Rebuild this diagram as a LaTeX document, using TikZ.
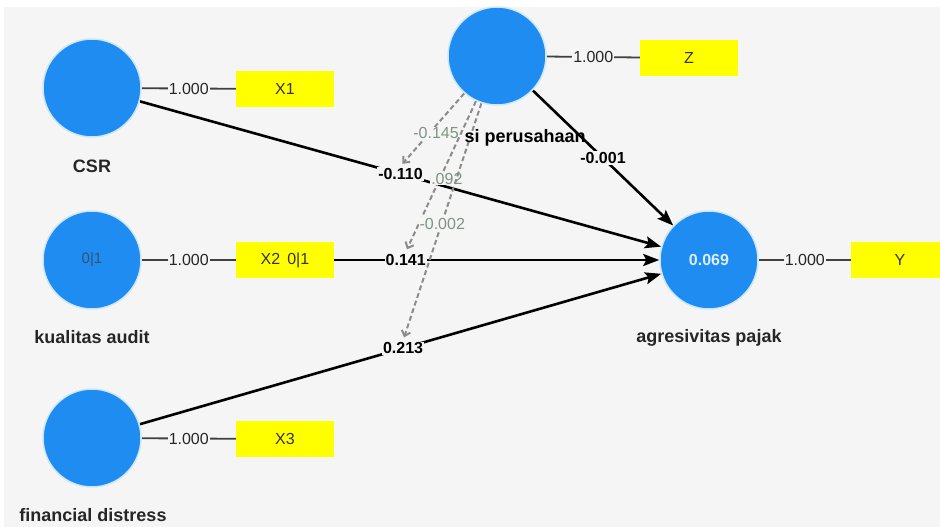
\documentclass[tikz,border=0pt]{standalone}
\usepackage{fontspec}
\setmainfont{Liberation Sans}
\usetikzlibrary{arrows.meta}
\definecolor{bgc}{RGB}{245,245,245}
\definecolor{cblue}{RGB}{30,140,240}
\definecolor{cring}{RGB}{205,232,250}
\definecolor{ybox}{RGB}{255,255,0}
\definecolor{mgreen}{RGB}{128,148,128}
\definecolor{dline}{RGB}{140,140,140}
\definecolor{inner}{RGB}{55,80,115}
\definecolor{whitish}{RGB}{220,238,255}
\pgfdeclarelayer{bglayer}
\pgfdeclarelayer{lines}
\pgfsetlayers{bglayer,lines,main}
\begin{document}
\begin{tikzpicture}[x=1pt,y=-1pt,
 lv/.style={circle,fill=cblue,draw=cring,line width=1.5pt,minimum size=98pt,inner sep=0pt},
 ind/.style={fill=ybox,minimum width=98pt,minimum height=36pt,inner sep=0pt,font=\fontsize{16}{18}\selectfont,text=black!80},
 lvname/.style={font=\bfseries\fontsize{18}{21}\selectfont,text=black!85},
 ld/.style={line width=1.8pt,draw=black!75},
 ldlab/.style={fill=bgc,inner sep=1pt,font=\fontsize{16}{18}\selectfont,text=black!85},
 pth/.style={line width=2.6pt,-{Stealth[length=16pt,width=12pt,inset=3pt]}},
 coef/.style={fill=bgc,inner sep=1pt,font=\bfseries\fontsize{16}{18}\selectfont},
 mdl/.style={dline,line width=2pt,dash pattern=on 5pt off 3pt,-{Straight Barb[length=5pt,width=9pt]},shorten >=3pt},
 mlab/.style={fill=bgc,inner sep=1pt,font=\fontsize{16}{18}\selectfont,text=mgreen}]
\begin{pgfonlayer}{bglayer}
\fill[white] (0,0) rectangle (940,527);
\fill[bgc] (4,7) rectangle (940,527);
\end{pgfonlayer}
\useasboundingbox (0,0) rectangle (940,527);
% latent variables
\node[lv] (csr) at (92,88) {};
\node[lv,font=\fontsize{15}{17}\selectfont,text=inner] (ka) at (92,260) {0|1};
\node[lv] (fd) at (92,438) {};
\node[lv] (mod) at (497,56) {};
\node[lv,font=\bfseries\fontsize{16}{18}\selectfont,text=whitish] (agr) at (709,260) {0.069};
% indicators
\node[ind] (x1) at (285,89) {X1};
\node[ind] (x2) at (285,260) {X2\hspace{7pt}0|1};
\node[ind] (x3) at (285,439) {X3};
\node[ind] (z) at (689,58) {Z};
\node[ind] (y) at (900,260) {Y};
% names
\node[lvname] (ncsr) at (92,166) {CSR};
\node[lvname] (nka) at (92,337) {kualitas audit};
\node[lvname] (nfd) at (93,515) {financial distress};
\node[lvname,anchor=west,text=black] (nmod) at (461,138) {si perusahaan};
\node[lvname] (nagr) at (709,338) {agresivitas pajak};
\begin{pgfonlayer}{lines}
% structural paths
\draw[pth] (csr) -- node[coef,pos=.5] (c1) {-0.110} (agr);
\draw[pth] (ka) -- node[coef,pos=.51] (c2) {0.141} (agr);
\draw[pth] (fd) -- node[coef,pos=.505] (c3) {0.213} (agr);
\draw[pth] (mod) -- node[coef,pos=.5] (c4) {-0.001} (agr);
% loadings
\draw[ld] (csr) -- node[ldlab] {1.000} (x1);
\draw[ld] (ka) -- node[ldlab] {1.000} (x2);
\draw[ld] (fd) -- node[ldlab] {1.000} (x3);
\draw[ld] (mod) -- node[ldlab] {1.000} (z);
\draw[ld] (agr) -- node[ldlab] {1.000} (y);
% moderating effects
\draw[mdl] (mod) -- node[mlab,pos=.52,xshift=5pt,yshift=-2pt] {-0.145} (c1.north);
\draw[mdl] (mod) -- node[mlab,pos=.5,xshift=6pt,yshift=-2pt] {.092} (c2.north);
\draw[mdl] (mod) -- node[mlab,pos=.5,yshift=-2pt] {-0.002} (c3.north);
\end{pgfonlayer}
\end{tikzpicture}
\end{document}
